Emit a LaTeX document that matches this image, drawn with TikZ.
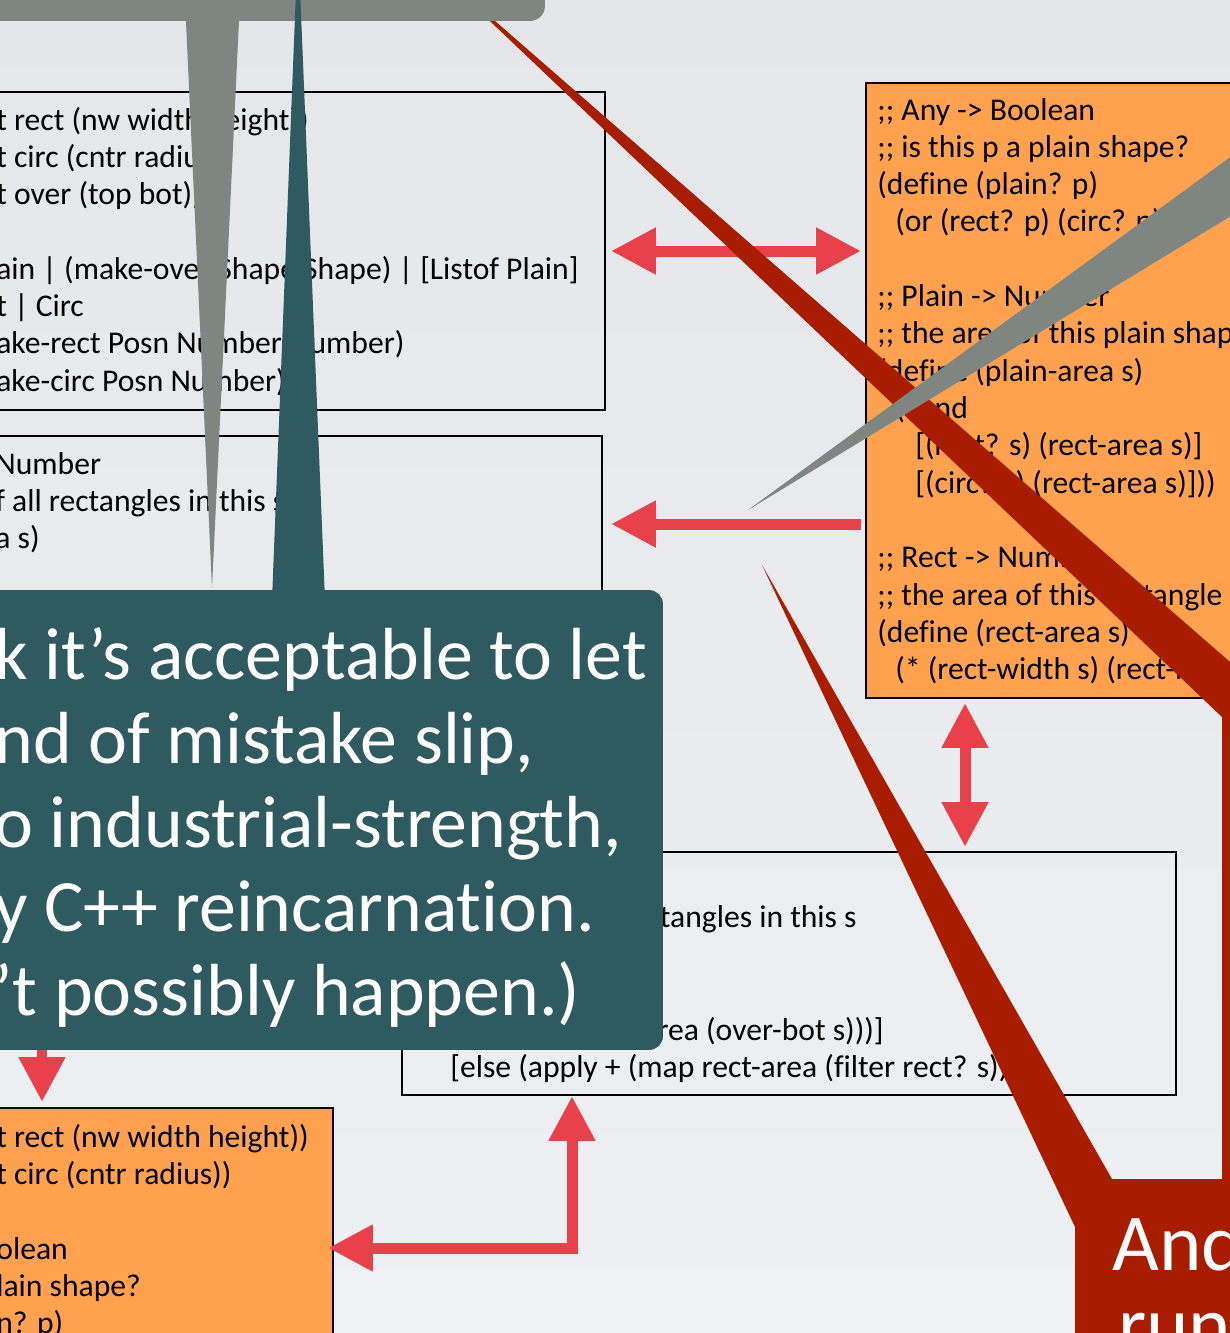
\documentclass[tikz,border=0pt]{standalone}
\usepackage{fontspec}
\setmainfont{Carlito}[Ligatures=NoCommon]
\usetikzlibrary{arrows.meta}

\definecolor{slidetop}{HTML}{E4E6E9}
\definecolor{slidebottom}{HTML}{EFF0F3}
\definecolor{codeorange}{HTML}{FFA24F}
\definecolor{arrowred}{HTML}{E8414B}
\definecolor{calloutred}{HTML}{A81C00}
\definecolor{calloutgrey}{HTML}{7F8682}
\definecolor{calloutteal}{HTML}{2F5A60}

\begin{document}
\begin{tikzpicture}[x=0.02cm, y=-0.02cm,
    codebox/.style={draw=black, line width=0.04cm, inner sep=0pt},
    code/.style={font=\fontsize{18}{21}\selectfont, anchor=base west, inner sep=0pt},
    bigarrow/.style={draw=arrowred, line width=0.22cm, >={Triangle[length=0.9cm,width=0.88cm]}},
    say/.style={text=white, font=\fontsize{42}{50}\selectfont, anchor=base west, inner sep=0pt}]
  \useasboundingbox (0,0) rectangle (1230,1333);
  \clip (0,0) rectangle (1230,1333);
  \shade[top color=slidetop, bottom color=slidebottom] (0,0) rectangle (1230,1333);

  % the code boxes
  \node[codebox, minimum width=12.5cm, minimum height=6.36cm] (structs) at (292.5,251) {};
  \node[codebox, minimum width=12.44cm, minimum height=4.08cm] (areabox) at (291,538) {};
  \node[codebox, fill=codeorange, minimum width=7.88cm, minimum height=12.3cm] (plainbox) at (1063,390.5) {};
  \node[codebox, minimum width=15.48cm, minimum height=4.86cm] (overbox) at (789,973.5) {};
  \node[codebox, fill=codeorange, minimum width=7.06cm, minimum height=5.04cm] (predbox) at (156.5,1234) {};

  \foreach \n/\t in {0/{t rect (nw width height))}, 1/{t circ (cntr radius))}, 2/{t over (top bot))},
      4/{ain | (make-over Shape Shape) | [Listof Plain]}, 5/{t | Circ},
      6/{ake-rect Posn Number Number)}, 7/{ake-circ Posn Number)}}
    \node[code] (structs\n) at (-4, 130+37.33*\n) {\t};
  \foreach \n/\t in {0/{Number}, 1/{f all rectangles in this s}, 2/{a s)}}
    \node[code] (areabox\n) at (-5, 474+37.33*\n) {\t};
  \foreach \n/\dx/\t in {0/0/{;; Any -> Boolean}, 1/0/{;; is this p a plain shape?},
      2/0/{(define (plain? p)}, 3/18/{(or (rect? p) (circ? p))},
      5/0/{;; Plain -> Number}, 6/0/{;; the area of this plain shape},
      7/0/{(define (plain-area s)}, 8/18/{(cond}, 9/38/{[(rect? s) (rect-area s)]},
      10/38/{[(circ? s) (rect-area s)]))}, 12/0/{;; Rect -> Number},
      13/0/{;; the area of this rectangle s}, 14/0/{(define (rect-area s)},
      15/18/{(* (rect-width s) (rect-height s)))}}
    \node[code] (plainbox\n) at (877+\dx, 120+37.33*\n) {\t};
  \node[code, anchor=base east] (overbox0) at (857,927) {rectangles in this s};
  \node[code, anchor=base east] (overbox3) at (884,1040) {area (over-bot s)))]};
  \node[code] (overbox4) at (450,1077) {[else (apply + (map rect-area (filter rect? s))))};
  \foreach \n/\t in {0/{t rect (nw width height))}, 1/{t circ (cntr radius))},
      3/{olean}, 4/{lain shape?}, 5/{n? p)}}
    \node[code] (predbox\n) at (-4, 1147+37.33*\n) {\t};

  % arrows between the boxes
  \draw[bigarrow, <->, shorten <=0.1cm, shorten >=0.08cm] (structs.east) -- (structs.east -| plainbox.west);
  \draw[bigarrow, ->, shorten <=0.08cm, shorten >=0.16cm] (plainbox.west |- 0,524) -- (areabox.east |- 0,524);
  \draw[bigarrow, <->, shorten <=0.08cm, shorten >=0.08cm] (plainbox.south -| 965,0) -- (overbox.north -| 965,0);
  \draw[bigarrow, <->, shorten >=-0.12cm] (overbox.south -| 572,0) |- (predbox.east |- 0,1248);

  % red callout
  \fill[calloutred] (432,-34) -- (1300,723) -- (1300,1400) -- (1075,1400) -- (1075,1227)
    -- (762,565) -- (1112,1179) -- (1222,1179) -- (1222,717) -- cycle;
  \node[say, font=\fontsize{46}{54}\selectfont] (andline) at (1112,1270) {And};
  \node[say, font=\fontsize{46}{54}\selectfont] (runline) at (1118,1352) {run};

  % grey callout
  \node[fill=calloutgrey, rounded corners=0.3cm, minimum width=11.5cm, minimum height=1.22cm, inner sep=0pt] (topnote) at (257.5,-9.5) {};
  \fill[calloutgrey] (185,0) -- (240,0) -- (212,588) -- cycle;
  \fill[calloutgrey] (748,510) -- (1300,106) -- (1300,174) -- cycle;

  % teal callout
  \fill[calloutteal] (272,600) -- (298,-60) -- (325,600) -- cycle;
  \node[fill=calloutteal, rounded corners=0.28cm, minimum width=13.86cm, minimum height=9.2cm, inner sep=0pt] (note) at (316.5,820) {};
  \foreach \n/\t in {0/{k it’s acceptable to let}, 1/{nd of mistake slip,}, 2/{o industrial-strength,},
      3/{y C++ reincarnation.}, 4/{’t possibly happen.)}}
    \node[say] (note\n) at (-6, 679+84*\n) {\t};
  \draw[bigarrow, ->, shorten >=0.1cm] (note.south -| 42,0) -- (predbox.north -| 42,0);
\end{tikzpicture}
\end{document}
